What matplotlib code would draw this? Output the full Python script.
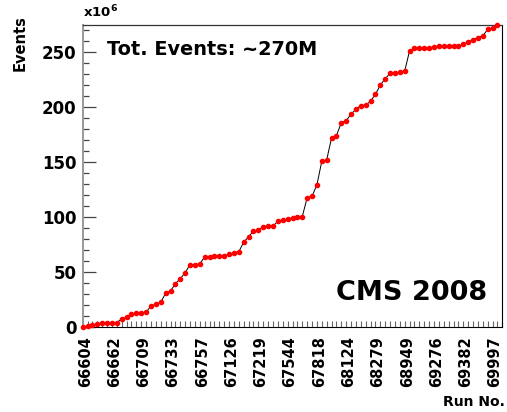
import matplotlib
matplotlib.use('Agg')
import matplotlib.pyplot as plt
from matplotlib.ticker import MultipleLocator, FixedLocator

# cumulative events (x10^6), one value per run, in run order
events = [0.3, 0.5, 1.8, 2.7, 3.4, 3.9, 3.9, 4.0, 7.5, 8.8,
          11.5, 12.7, 13.0, 13.4, 19.1, 20.6, 22.7, 30.6, 32.7, 39.4,
          43.9, 49.4, 56.7, 56.8, 57.4, 63.8, 63.8, 64.5, 64.5, 64.5,
          66.1, 67.4, 68.5, 77.1, 82.0, 87.3, 87.9, 91.2, 92.0, 91.8,
          96.0, 97.0, 97.8, 99.4, 99.7, 100.3, 117.5, 118.8, 129.1, 150.6,
          151.8, 171.8, 173.9, 185.7, 187.5, 193.4, 197.9, 201.3, 201.6, 205.3,
          211.5, 220.0, 225.7, 230.6, 230.9, 231.8, 232.7, 251.2, 253.3, 253.9,
          253.9, 253.9, 254.5, 255.2, 255.2, 255.2, 255.2, 255.2, 257.0, 258.8,
          261.2, 263.0, 264.5, 270.6, 271.8, 274.5]

# run numbers shown on the axis (every 6th run)
run_labels = ['66604', '66662', '66709', '66733', '66757', '67126', '67219',
              '67544', '67818', '68124', '68279', '68949', '69276', '69382',
              '69997']
label_step = 6

plt.rcParams['font.family'] = 'DejaVu Sans'

fig = plt.figure(figsize=(5.07, 4.12), dpi=100)
ax = fig.add_axes([82.7 / 507, 1 - 327 / 412, (502.3 - 82.7) / 507, (327 - 25) / 412])

n = len(events)
x = list(range(n))
ax.plot(x, events, color='black', lw=0.7, zorder=2)
ax.plot(x, events, ls='none', marker='o', ms=3.0, mfc='#ff0000', mec='#ff0000',
        clip_on=False, zorder=3)

ax.set_xlim(0, n)
ax.set_ylim(0, 274.5)

# x axis: one tick per run, labels at bin centres
ax.xaxis.set_major_locator(FixedLocator([i * label_step + 0.5 for i in range(len(run_labels))]))
ax.set_xticklabels(run_labels, rotation=90, fontsize=10.5, fontweight='bold', va='top', ha='center')
ax.xaxis.set_minor_locator(MultipleLocator(1))
ax.tick_params(axis='x', which='major', length=0, pad=6.5)
ax.tick_params(axis='x', which='minor', direction='in', length=4.6, width=0.8, color='#666666')

ax.yaxis.set_major_locator(MultipleLocator(50))
ax.yaxis.set_minor_locator(MultipleLocator(10))
ax.tick_params(axis='y', which='major', direction='in', length=9, width=0.9, color='#444444',
               labelsize=12, pad=4.5)
ax.tick_params(axis='y', which='minor', direction='in', length=4.5, width=0.9, color='#444444')
for lab in ax.get_yticklabels():
    lab.set_fontweight('bold')

ax.spines['left'].set_color('#999999')
ax.spines['left'].set_linewidth(1.4)
ax.spines['top'].set_color('#333333')
ax.spines['top'].set_linewidth(0.9)
ax.spines['right'].set_color('black')
ax.spines['right'].set_linewidth(0.8)
ax.spines['bottom'].set_color('black')
ax.spines['bottom'].set_linewidth(0.8)

fig.text(83 / 507, 1 - 17 / 412, r'x10$^{\mathbf{6}}$', fontsize=9.5, fontweight='bold',
         ha='left', va='baseline')
fig.text(20 / 507, 1 - 15 / 412, 'Events', rotation=90, fontsize=10.5, fontweight='bold',
         ha='center', va='top')
fig.text(505 / 507, 1 - 406 / 412, 'Run No.', fontsize=10, fontweight='bold',
         ha='right', va='baseline')
fig.text(107 / 507, 1 - 55 / 412, 'Tot. Events: ~270M', fontsize=13.9, fontweight='bold',
         ha='left', va='baseline')
fig.text(487 / 507, 1 - 300 / 412, 'CMS 2008', fontsize=19.5, fontweight='bold',
         ha='right', va='baseline')

fig.savefig('out.png', dpi=100)
